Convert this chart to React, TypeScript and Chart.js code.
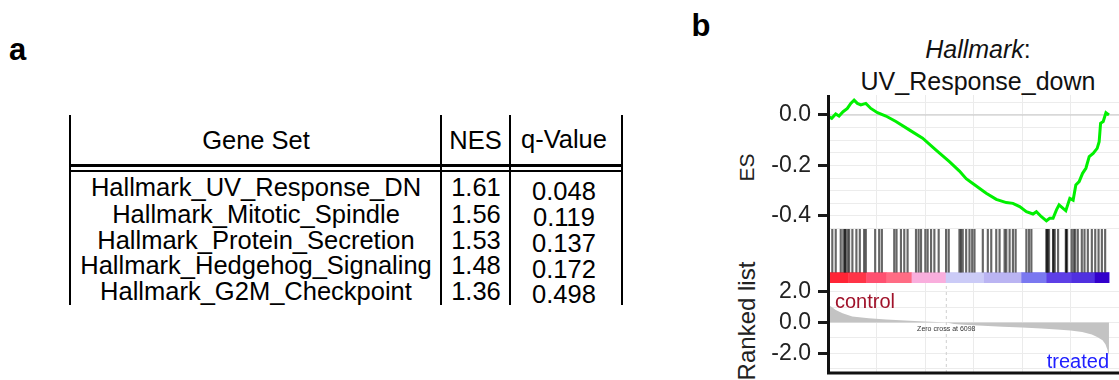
import React, { useEffect, useRef, useState } from 'react';
import { Chart, registerables } from 'chart.js';

Chart.register(...registerables);

const FONT = "'Liberation Sans', Arial, Helvetica, sans-serif";

// ---------- Panel a: table ----------
const tableHeaders = ['Gene Set', 'NES', 'q-Value'];
const geneSets = [
  'Hallmark_UV_Response_DN',
  'Hallmark_Mitotic_Spindle',
  'Hallmark_Protein_Secretion',
  'Hallmark_Hedgehog_Signaling',
  'Hallmark_G2M_Checkpoint',
];
const nesValues = ['1.61', '1.56', '1.53', '1.48', '1.36'];
const qValues = ['0.048', '0.119', '0.137', '0.172', '0.498'];

// ---------- Panel b: GSEA plot ----------
const titleItalic = 'Hallmark';
const titleRest = ':';
const titleLine2 = 'UV_Response_down';
const esAxisTitle = 'ES';
const rankAxisTitle = 'Ranked list';
const controlLabel = 'control';
const treatedLabel = 'treated';

const xMax = 15000;
const xGridValues = [2500, 5000, 7500, 10000, 12500];
const zeroCross = 6098;

const esGenes = [
  0, 191, 398, 569, 776, 998, 1174, 1345, 1515, 1691, 1950, 2208, 2550, 2984,
  3501, 4189, 4877, 5570, 6258, 6775, 7122, 7463, 8156, 8673, 9191, 9532, 9878,
  10225, 10566, 10742, 11001, 11259, 11430, 11601, 11777, 11911, 12118, 12258,
  12465, 12636, 12775, 12946, 13122, 13293, 13465, 13667, 13874, 13977, 14050,
  14186, 14326, 14482,
];
const esValues = [
  -0.005, -0.013, 0.004, -0.004, 0.013, 0.026, 0.046, 0.059, 0.046, 0.04, 0.046,
  0.026, 0.009, -0.004, -0.026, -0.059, -0.092, -0.139, -0.185, -0.222, -0.252,
  -0.271, -0.31, -0.334, -0.347, -0.35, -0.363, -0.383, -0.392, -0.383, -0.403,
  -0.419, -0.409, -0.409, -0.376, -0.356, -0.37, -0.379, -0.33, -0.337, -0.277,
  -0.264, -0.231, -0.211, -0.165, -0.152, -0.132, -0.106, -0.033, -0.026, 0.009,
  0.0,
];
const esMin = -0.4515;
const esMax = 0.0792;
const esGridValues = [-0.45, -0.4, -0.35, -0.3, -0.25, -0.2, -0.15, -0.1, -0.05, 0, 0.05];
const esTickValues = [-0.4, -0.2, 0];

const hitGenes = [
  222, 398, 657, 791, 879, 890, 998, 1086, 1257, 1464, 1640, 1862, 1950, 2431,
  2638, 2777, 3414, 3532, 3760, 3931, 4102, 4536, 4670, 4795, 5017, 5136, 5312,
  5483, 5705, 6087, 6222, 6775, 6853, 6946, 7122, 7293, 7432, 7551, 7980, 8239,
  8415, 8673, 8844, 9103, 9191, 9361, 9532, 9672, 10225, 10360, 10484, 11259,
  11280, 11327, 11394, 11601, 11620, 11689, 11860, 12258, 12280, 12325, 12553,
  12659, 12740, 12875, 13082, 13222, 13393, 13600, 13775, 13946, 14117, 14286,
];

const colorBarEdges = [0, 1040, 1970, 3010, 4310, 6070, 8040, 9965, 11260, 12560, 13750, 14482];
const colorBarColors = [
  '#ff2435', '#ff3447', '#ff5070', '#ff6c84', '#f9aedd', '#cbcbf7', '#bab4f2',
  '#7a78f0', '#5d3fe6', '#5030e0', '#3300cc',
];

const rankGenes = [
  0, 190, 400, 750, 1250, 2100, 3000, 4700, 5600, 6098, 6500, 7000, 8000, 9000,
  10000, 11000, 11800, 12500, 13100, 13600, 13900, 14150, 14300, 14400, 14450, 14482,
];
const rankValues = [
  1.15, 1.0, 0.8, 0.6, 0.38, 0.27, 0.2, 0.08, 0.03, 0, -0.1, -0.15, -0.21, -0.27,
  -0.33, -0.39, -0.45, -0.52, -0.62, -0.78, -0.95, -1.15, -1.4, -1.75, -2.0, -2.1,
];
const rankMin = -3.26;
const rankMax = 2.55;
const rankGridValues = [-3, -2, -1, 0, 1, 2];
const rankTickValues = [-2, 0, 2];

// ---------- layout ----------
const canvasLeft = 700;
const canvasW = 419;
const axisW = 128;
const esTop = 95;
const esBottom = 229;
const hitsBottom = 283;
const rankBottom = 373;
const rankCanvasTop = 268;
const rankCanvasH = 112;

const fixTicks = (vals: number[]) => (s: any) => {
  s.ticks = vals.map((v) => ({ value: v }));
};
const fitWidth = (w: number) => (s: any) => {
  s.width = w;
  s.paddingTop = 0;
  s.paddingBottom = 0;
};
const fitHeight = (h: number) => (s: any) => {
  s.height = h;
  s.paddingLeft = 0;
  s.paddingRight = 0;
};

const tickFont = { family: 'Liberation Sans', size: 23 };

function xScale(h: number) {
  return {
    type: 'linear',
    min: 0,
    max: xMax,
    offset: false,
    display: true,
    afterBuildTicks: fixTicks(xGridValues),
    afterFit: fitHeight(h),
    ticks: { display: false },
    grid: { color: '#ebebeb', lineWidth: 1, drawTicks: false },
    border: { display: false },
  };
}

function mainY(min: number, max: number, tickVals: number[]) {
  return {
    type: 'linear',
    position: 'left',
    min,
    max,
    afterBuildTicks: fixTicks(tickVals),
    afterFit: fitWidth(axisW),
    ticks: {
      autoSkip: false,
      padding: 7,
      color: '#222',
      font: { ...tickFont },
      callback: (v: any) => Number(v).toFixed(1),
    },
    grid: { drawOnChartArea: false, drawTicks: true, tickLength: 10, tickWidth: 3, tickColor: '#1a1a1a' },
    border: { display: true, color: '#111', width: 3 },
  };
}

function gridY(min: number, max: number, gridVals: number[]) {
  return {
    type: 'linear',
    position: 'left',
    min,
    max,
    afterBuildTicks: fixTicks(gridVals),
    afterFit: fitWidth(0),
    ticks: { display: false },
    grid: { color: '#ececec', lineWidth: 1, drawTicks: false },
    border: { display: false },
  };
}

const colorBarPlugin = {
  id: 'colorBar',
  beforeDatasetsDraw(chart: any) {
    const { ctx, scales } = chart;
    const x = scales.x;
    const y = scales.y;
    const y0 = y.getPixelForValue(0.2);
    const y1 = y.getPixelForValue(0);
    ctx.save();
    for (let i = 0; i < colorBarColors.length; i++) {
      const x0 = x.getPixelForValue(colorBarEdges[i]);
      const x1 = x.getPixelForValue(colorBarEdges[i + 1]);
      ctx.fillStyle = colorBarColors[i];
      ctx.fillRect(x0, y0, x1 - x0 + 0.5, y1 - y0);
    }
    ctx.restore();
  },
};

const rankExtrasPlugin = {
  id: 'rankExtras',
  afterDraw(chart: any) {
    const { ctx, scales, chartArea: a } = chart;
    const px = scales.x.getPixelForValue(zeroCross);
    const py = scales.y.getPixelForValue(0) + 8;
    ctx.save();
    ctx.font = `7px ${FONT}`;
    ctx.fillStyle = '#333';
    ctx.textAlign = 'center';
    ctx.textBaseline = 'alphabetic';
    ctx.fillText(`Zero cross at ${zeroCross}`, px, py);
    ctx.fillStyle = '#111';
    ctx.fillRect(a.left - 1, a.bottom - 1.5, a.right - a.left + 1, 3);
    ctx.restore();
  },
};

const baseOptions = (padTop: number, padBottom: number) => ({
  responsive: false,
  animation: false,
  devicePixelRatio: 1,
  layout: { padding: { top: padTop, bottom: padBottom } },
  plugins: { legend: { display: false }, tooltip: { enabled: false } },
});

function Txt(props: {
  x: number;
  base: number;
  size: number;
  children: any;
  align?: 'left' | 'center' | 'right';
  color?: string;
  bold?: boolean;
}) {
  const { x, base, size, children, align = 'left', color = '#000', bold = false } = props;
  const style: any = {
    position: 'absolute',
    top: base - 0.8465 * size,
    fontSize: size,
    lineHeight: size + 'px',
    fontFamily: FONT,
    color,
    whiteSpace: 'nowrap',
    fontWeight: bold ? 'bold' : 'normal',
  };
  if (align === 'center') {
    style.left = x - 200;
    style.width = 400;
    style.textAlign = 'center';
  } else if (align === 'right') {
    style.left = x - 100;
    style.width = 100;
    style.textAlign = 'right';
  } else {
    style.left = x;
  }
  return <div style={style}>{children}</div>;
}

function VText(props: { cx: number; cy: number; size: number; children: any }) {
  const { cx, cy, size, children } = props;
  return (
    <div
      style={{
        position: 'absolute',
        left: cx - 80,
        top: cy - size / 2,
        width: 160,
        height: size,
        lineHeight: size + 'px',
        fontSize: size,
        fontFamily: FONT,
        color: '#222',
        textAlign: 'center',
        whiteSpace: 'nowrap',
        transform: 'rotate(-90deg)',
      }}
    >
      {children}
    </div>
  );
}

function Line(props: { x: number; y: number; w: number; h: number; c?: string; z?: number }) {
  return (
    <div
      style={{
        position: 'absolute',
        left: props.x,
        top: props.y,
        width: props.w,
        height: props.h,
        background: props.c || '#000',
        zIndex: props.z || 'auto',
      }}
    />
  );
}

export default function App() {
  const r1 = useRef<HTMLCanvasElement>(null);
  const r2 = useRef<HTMLCanvasElement>(null);
  const r3 = useRef<HTMLCanvasElement>(null);
  const [tickYs, setTickYs] = useState<number[]>([]);

  useEffect(() => {
    const esChart = new Chart(r1.current as HTMLCanvasElement, {
      type: 'line',
      data: {
        datasets: [
          {
            data: esGenes.map((g, i) => ({ x: g, y: esValues[i] })),
            borderColor: '#00f000',
            borderWidth: 3,
            pointRadius: 0,
            tension: 0,
            fill: false,
            yAxisID: 'y',
          },
          {
            data: [
              { x: 0, y: 0 },
              { x: xMax, y: 0 },
            ],
            borderColor: '#c4c4c4',
            borderWidth: 1,
            pointRadius: 0,
            fill: false,
            yAxisID: 'y',
          },
        ],
      },
      options: {
        ...baseOptions(0, 0),
        scales: {
          x: xScale(0),
          y: mainY(esMin, esMax, esTickValues),
          yg: gridY(esMin, esMax, esGridValues),
        },
      } as any,
    });

    const hitChart = new Chart(r2.current as HTMLCanvasElement, {
      type: 'bar',
      data: {
        datasets: [
          {
            data: hitGenes.map((g) => ({ x: g, y: [0.2, 1] })),
            backgroundColor: 'rgba(0,0,0,0.6)',
            borderWidth: 0,
            barThickness: 1.5,
          } as any,
        ],
      },
      options: {
        ...baseOptions(0, 0),
        scales: {
          x: { type: 'linear', min: 0, max: xMax, offset: false, display: false },
          y: {
            type: 'linear',
            position: 'left',
            min: 0,
            max: 1,
            afterFit: fitWidth(axisW),
            ticks: { display: false },
            grid: { drawOnChartArea: false, drawTicks: false },
            border: { display: true, color: '#111', width: 3 },
          },
        },
      } as any,
      plugins: [colorBarPlugin],
    });

    const rankChart = new Chart(r3.current as HTMLCanvasElement, {
      type: 'line',
      data: {
        datasets: [
          {
            data: rankGenes.map((g, i) => ({ x: g, y: rankValues[i] })),
            fill: 'origin',
            backgroundColor: '#c3c3c3',
            borderColor: 'rgba(0,0,0,0)',
            borderWidth: 0,
            pointRadius: 0,
            tension: 0,
            yAxisID: 'y',
          },
          {
            data: [
              { x: zeroCross, y: rankMin },
              { x: zeroCross, y: rankMax },
            ],
            borderColor: '#cfcfcf',
            borderWidth: 1,
            borderDash: [3, 3],
            pointRadius: 0,
            fill: false,
            yAxisID: 'y',
          },
        ],
      },
      options: {
        ...baseOptions(hitsBottom - rankCanvasTop, rankCanvasTop + rankCanvasH - rankBottom - 5),
        scales: {
          x: xScale(5),
          y: mainY(rankMin, rankMax, rankTickValues),
          yg: gridY(rankMin, rankMax, rankGridValues),
        },
      } as any,
      plugins: [rankExtrasPlugin],
    });

    const esY = esChart.scales.y as any;
    setTickYs(esTickValues.map((v) => esTop + esY.getPixelForValue(v)));

    return () => {
      esChart.destroy();
      hitChart.destroy();
      rankChart.destroy();
    };
  }, []);

  const rowBase = [197, 223.5, 249.5, 275, 300.5];

  return (
    <div
      style={{
        position: 'absolute',
        left: 0,
        top: 0,
        width: 1119,
        height: 380,
        background: '#fff',
        overflow: 'hidden',
        fontFamily: FONT,
      }}
    >
      <Txt x={9} base={60} size={31} bold>
        a
      </Txt>
      <Txt x={691.5} base={36} size={31} bold>
        b
      </Txt>

      <Line x={69} y={115} w={2} h={190} />
      <Line x={440} y={115} w={2} h={190} />
      <Line x={509} y={115} w={2} h={190} />
      <Line x={621} y={115} w={2} h={190} />
      <Line x={69} y={164} w={554} h={2.5} />
      <Line x={69} y={169.5} w={554} h={2.5} />

      <Txt x={256} base={150} size={25.5} align="center">
        {tableHeaders[0]}
      </Txt>
      <Txt x={475.5} base={149.5} size={25.5} align="center">
        {tableHeaders[1]}
      </Txt>
      <Txt x={564} base={148.5} size={25.5} align="center">
        {tableHeaders[2]}
      </Txt>

      {geneSets.map((g, i) => (
        <Txt key={'g' + i} x={256} base={rowBase[i]} size={25.5} align="center">
          {g}
        </Txt>
      ))}
      {nesValues.map((v, i) => (
        <Txt key={'n' + i} x={476} base={rowBase[i]} size={25.5} align="center">
          {v}
        </Txt>
      ))}
      {qValues.map((v, i) => (
        <Txt key={'q' + i} x={564} base={rowBase[i] + 3.5} size={25.5} align="center">
          {v}
        </Txt>
      ))}

      <Txt x={978} base={58} size={25} align="center" color="#111">
        <i>{titleItalic}</i>
        {titleRest}
      </Txt>
      <Txt x={978} base={90.6} size={25} align="center" color="#111">
        {titleLine2}
      </Txt>

      <VText cx={745.7} cy={167} size={21}>
        {esAxisTitle}
      </VText>
      <VText cx={746.7} cy={321.4} size={24}>
        {rankAxisTitle}
      </VText>

      <canvas
        ref={r1}
        width={canvasW}
        height={esBottom - esTop}
        style={{ position: 'absolute', left: canvasLeft, top: esTop }}
      />
      <canvas
        ref={r2}
        width={canvasW}
        height={hitsBottom - esBottom}
        style={{ position: 'absolute', left: canvasLeft, top: esBottom }}
      />
      <canvas
        ref={r3}
        width={canvasW}
        height={rankCanvasH}
        style={{ position: 'absolute', left: canvasLeft, top: rankCanvasTop }}
      />

      <Line x={canvasLeft + axisW - 1} y={esTop} w={3} h={rankBottom - esTop} c="#111" z={5} />
      {tickYs.map((y, i) => (
        <Line key={'t' + i} x={canvasLeft + axisW - 10} y={y - 1.5} w={9} h={3} c="#1a1a1a" z={5} />
      ))}

      <Txt x={835} base={308} size={20} color="#a0122a">
        {controlLabel}
      </Txt>
      <Txt x={1109} base={367.5} size={20} align="right" color="#2020ff">
        {treatedLabel}
      </Txt>
    </div>
  );
}
